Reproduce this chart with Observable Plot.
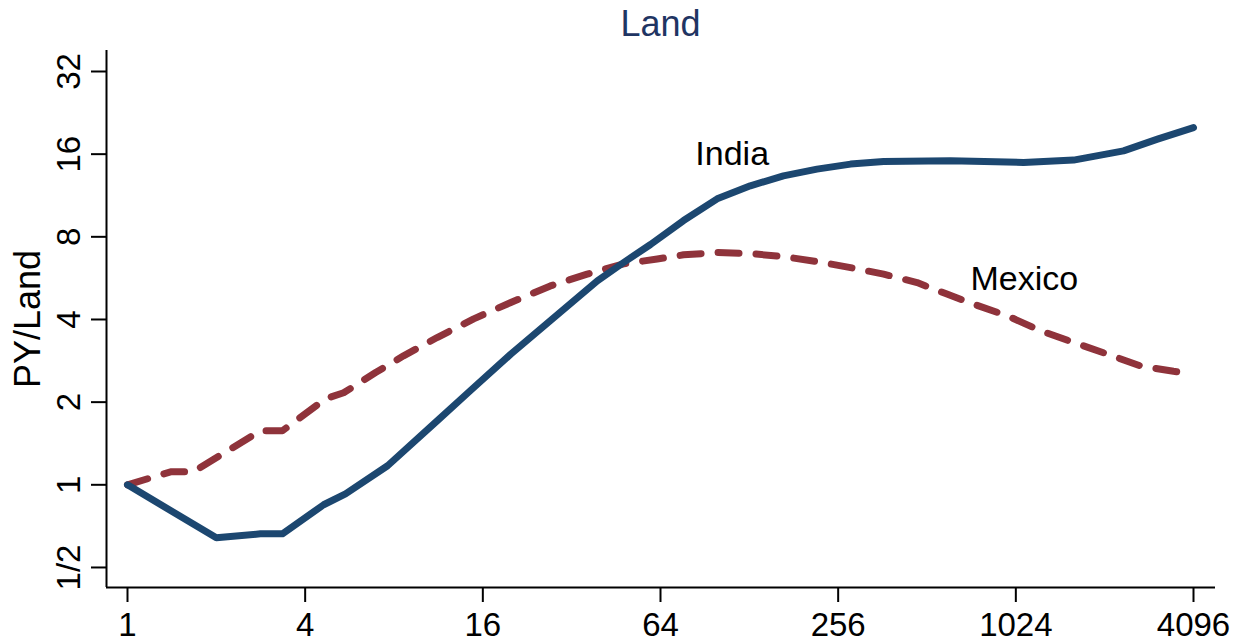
<!DOCTYPE html>
<html>
<head>
<meta charset="utf-8">
<script src="https://cdn.jsdelivr.net/npm/d3@7"></script>
<script src="https://cdn.jsdelivr.net/npm/@observablehq/plot@0.6"></script>
<style>
  html, body { margin: 0; padding: 0; background: #fff; }
  #wrap { position: relative; width: 1246px; height: 643px; font-family: "Liberation Sans", Arial, sans-serif; }
  #title { position: absolute; top: 6px; left: 106px; width: 1109px; text-align: center;
           font-size: 36px; line-height: 1; color: #1f3563; }
  #chart svg { display: block; }
</style>
</head>
<body>
<div id="wrap">
  <div id="chart"></div>
  <div id="title">Land</div>
</div>
<script>
// India: PY/Land against the x variable (log2 axes)
const indiaX = [1, 2.0, 2.82, 3.35, 4.62, 5.48, 7.61, 11.2, 14.5, 19.9, 27.1, 39.1, 48.0, 59.2, 76.6, 99.6, 129, 167, 217, 282, 365, 615, 1088, 1607, 2373, 3093, 4096];
const indiaY = [1, 0.641, 0.663, 0.663, 0.846, 0.927, 1.173, 1.71, 2.2, 2.99, 3.96, 5.53, 6.45, 7.5, 9.17, 11.0, 12.27, 13.34, 14.11, 14.72, 15.04, 15.13, 14.92, 15.22, 16.45, 18.15, 20.0];

// Mexico
const mexicoX = [1, 1.40, 1.67, 2.82, 3.35, 4.69, 5.40, 6.93, 8.62, 11.2, 14.9, 19.9, 27.1, 36.1, 48.0, 62.4, 76.6, 99.6, 129, 167, 217, 282, 365, 474, 592, 736, 960, 1242, 1607, 2094, 2710, 3505, 4096];
const mexicoY = [1, 1.115, 1.115, 1.573, 1.573, 2.057, 2.163, 2.564, 2.949, 3.438, 4.022, 4.612, 5.30, 5.85, 6.38, 6.64, 6.88, 7.01, 6.95, 6.78, 6.50, 6.18, 5.85, 5.45, 4.97, 4.55, 4.12, 3.64, 3.30, 2.99, 2.71, 2.59, 2.53];

// Axis ticks and their labels
const xTicks = [1, 4, 16, 64, 256, 1024, 4096];
const xTickLabels = ["1", "4", "16", "64", "256", "1024", "4096"];
const yTicks = [0.5, 1, 2, 4, 8, 16, 32];
const yTickLabels = ["1/2", "1", "2", "4", "8", "16", "32"];

// Series name labels placed in data coordinates
const seriesNames = ["India", "Mexico"];
const nameX = [84, 719];
const nameY = [15.94, 5.59];

const india = indiaX.map((x, i) => ({x, y: indiaY[i]}));
const mexico = mexicoX.map((x, i) => ({x, y: mexicoY[i]}));
const names = seriesNames.map((name, i) => ({name, x: nameX[i], y: nameY[i]}));

const xDomain = [0.8489, 4863];
const yDomain = [0.4227, 38.16];
const yMid = Math.sqrt(yDomain[0] * yDomain[1]);
const font = "'Liberation Sans', Arial, sans-serif";

const chart = Plot.plot({
  width: 1246,
  height: 643,
  marginLeft: 106,
  marginRight: 31,
  marginTop: 50,
  marginBottom: 56,
  style: {fontFamily: font, background: "#fff", color: "#000"},
  x: {type: "log", base: 2, domain: xDomain},
  y: {type: "log", base: 2, domain: yDomain},
  marks: [
    Plot.axisX({ticks: xTicks, tickSize: 15, tickPadding: 10, strokeWidth: 2, fontSize: 33,
                tickFormat: d => xTickLabels[xTicks.indexOf(d)], label: null}),
    Plot.axisY({ticks: yTicks, tickSize: 15, strokeWidth: 2, tickFormat: () => "", label: null}),
    Plot.text(yTicks, {y: d => d, text: (d, i) => yTickLabels[i], frameAnchor: "left",
                       textAnchor: "middle", rotate: -90, dx: -37, fontSize: 33, fill: "#000"}),
    Plot.text([{label: "PY/Land", y: yMid}], {y: "y", text: "label", frameAnchor: "left",
                                             textAnchor: "middle", rotate: -90, dx: -78, fontSize: 36, fill: "#000"}),
    Plot.ruleX([xDomain[0]], {stroke: "#000", strokeWidth: 2}),
    Plot.ruleY([yDomain[0]], {stroke: "#000", strokeWidth: 2}),
    Plot.line(mexico, {x: "x", y: "y", stroke: "#8f333b", strokeWidth: 7, strokeDasharray: "21,17"}),
    Plot.line(india, {x: "x", y: "y", stroke: "#1c4770", strokeWidth: 7}),
    Plot.text(names, {x: "x", y: "y", text: "name", textAnchor: "start", fontSize: 34, fill: "#000"})
  ]
});
document.getElementById("chart").append(chart);
</script>
</body>
</html>
